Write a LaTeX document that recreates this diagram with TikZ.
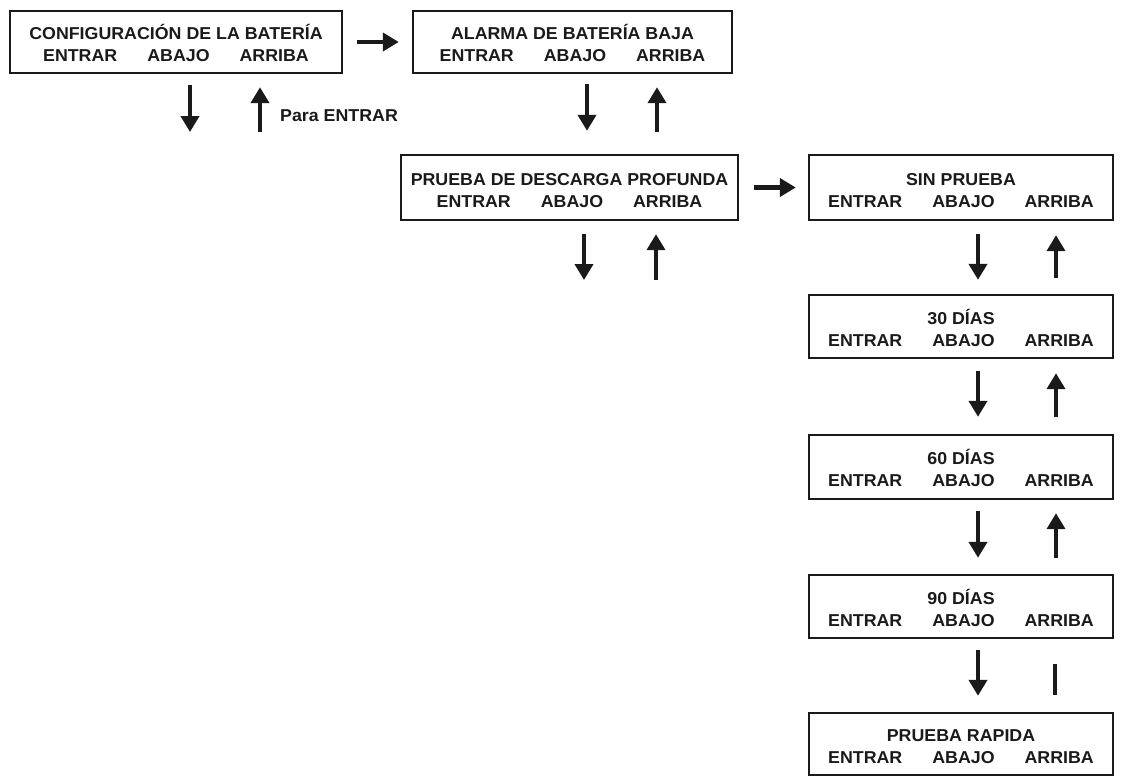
\documentclass[tikz,border=0pt]{standalone}
\usepackage{fontspec}
\setmainfont{Liberation Sans}[FakeStretch=1.035]
\usetikzlibrary{arrows.meta}
\definecolor{ink}{HTML}{1A1A1A}
\newcommand\keysrow{ENTRAR\hspace{30pt}ABAJO\hspace{30pt}ARRIBA}
\newcommand\topstrut{\rule{0pt}{18pt}}
\tikzset{
  box/.style={draw=ink, line width=2.4pt, minimum width=#1, minimum height=63pt,
    inner sep=0pt, align=center, text=ink,
    font=\bfseries\fontsize{17.2}{22}\selectfont},
  lbl/.style={inner sep=0pt, text=ink, font=\bfseries\fontsize{17.2}{22}\selectfont},
  arr/.style={draw=ink, line width=4.5pt, -{Triangle[width=18pt,length=16pt]}},
  bar/.style={draw=ink, line width=4.5pt},
}
\begin{document}
\begin{tikzpicture}[x=1pt,y=-1pt]
\useasboundingbox (0,0) rectangle (1121,782);
% boxes
\node[box=332pt, minimum height=62pt] (b1) at (176,42) {\topstrut CONFIGURACIÓN DE LA BATERÍA\\\keysrow};
\node[box=319pt, minimum height=62pt] (b2) at (572.5,42) {\topstrut ALARMA DE BATERÍA BAJA\\\keysrow};
\node[box=337pt, minimum height=65pt] (b3) at (569.5,187.5) {\topstrut PRUEBA DE DESCARGA PROFUNDA\\\keysrow};
\node[box=304pt, minimum height=65pt] (sin) at (961,187.5) {\topstrut SIN PRUEBA\\\keysrow};
\node[box=304pt, minimum height=63pt] (d30) at (961,326.5) {\topstrut 30 DÍAS\\\keysrow};
\node[box=304pt, minimum height=64pt] (d60) at (961,467) {\topstrut 60 DÍAS\\\keysrow};
\node[box=304pt, minimum height=63pt] (d90) at (961,606.5) {\topstrut 90 DÍAS\\\keysrow};
\node[box=304pt, minimum height=62pt] (rap) at (961,744) {\topstrut PRUEBA RAPIDA\\\keysrow};
\node[lbl, anchor=base west] (para) at (280,121) {Para ENTRAR};
% free ends
\coordinate (b1dn) at (190,132);
\coordinate (b1up) at (260,132);
\coordinate (b3dn) at (584,280);
\coordinate (b3up) at (656,280);
% horizontal arrows
\draw[arr, shorten <=14pt, shorten >=13pt] (b1.east) -- (b2.west);
\draw[arr, shorten <=15pt, shorten >=12pt] (b3.east) -- (sin.west);
% box 1
\draw[arr] ([xshift=14pt,yshift=-11pt]b1.south) -- (b1dn);
\draw[arr] (b1up) -- ([xshift=84pt,yshift=-13pt]b1.south);
% box 2 <-> box 3
\draw[arr, shorten <=10pt, shorten >=23pt] ([xshift=14.5pt]b2.south) -- ([xshift=14.5pt]b2.south |- b3.north);
\draw[arr, shorten <=22pt, shorten >=13pt] ([xshift=84.5pt]b2.south |- b3.north) -- ([xshift=84.5pt]b2.south);
% box 3
\draw[arr] ([xshift=14.5pt,yshift=-13pt]b3.south) -- (b3dn);
\draw[arr] (b3up) -- ([xshift=86.5pt,yshift=-13pt]b3.south);
% right column
\draw[arr, shorten <=13pt, shorten >=14pt] ([xshift=17pt]sin.south) -- ([xshift=17pt]d30.north);
\draw[arr, shorten <=16pt, shorten >=14pt] ([xshift=95pt]d30.north) -- ([xshift=95pt]sin.south);
\draw[arr, shorten <=12pt, shorten >=17pt] ([xshift=17pt]d30.south) -- ([xshift=17pt]d60.north);
\draw[arr, shorten <=17pt, shorten >=14pt] ([xshift=95pt]d60.north) -- ([xshift=95pt]d30.south);
\draw[arr, shorten <=11pt, shorten >=16pt] ([xshift=17pt]d60.south) -- ([xshift=17pt]d90.north);
\draw[arr, shorten <=16pt, shorten >=13pt] ([xshift=95pt]d90.north) -- ([xshift=95pt]d60.south);
\draw[arr, shorten <=11pt, shorten >=16pt] ([xshift=17pt]d90.south) -- ([xshift=17pt]rap.north);
\draw[bar, shorten <=25pt, shorten >=17pt] ([xshift=94pt]d90.south) -- ([xshift=94pt]rap.north);
\end{tikzpicture}
\end{document}
